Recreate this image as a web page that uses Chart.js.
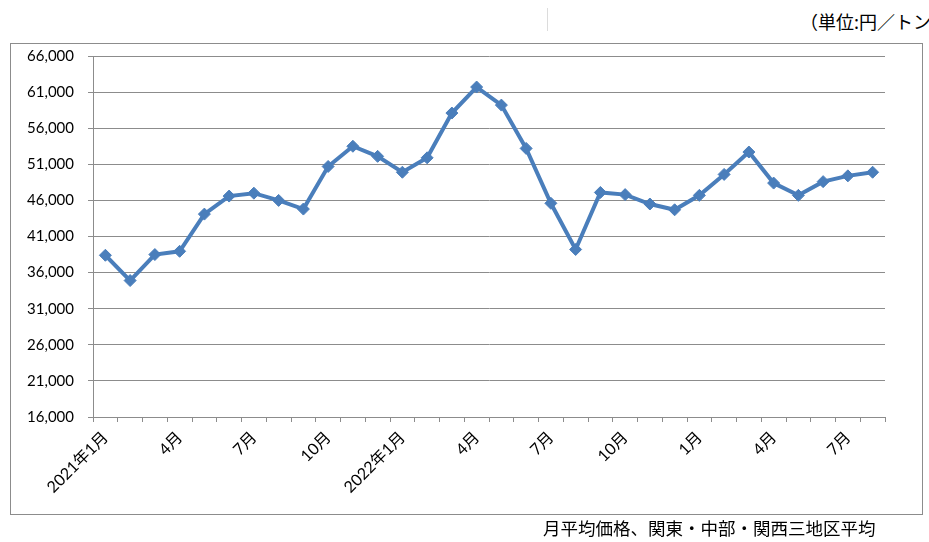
<!DOCTYPE html>
<html>
<head>
<meta charset="utf-8">
<script src="https://cdn.jsdelivr.net/npm/chart.js@4.4.1/dist/chart.umd.min.js"></script>
<style>
  html, body { margin: 0; padding: 0; background: #fff; }
  body { width: 929px; height: 542px; position: relative; overflow: hidden; }
  #chartCanvas { position: absolute; left: 0; top: 0; }
  .frame { position: absolute; left: 10px; top: 43px; width: 911px; height: 470px; border: 1px solid #8c8c8c; pointer-events: none; }
  .sep { position: absolute; left: 547px; top: 8px; width: 1px; height: 23px; background: #dcdcdc; }
  .unit { position: absolute; left: 800px; top: 8px; font: 18px "Noto Sans CJK JP", sans-serif; white-space: nowrap; color: #000; }
  .note { position: absolute; left: 543px; top: 515px; font: 17.5px "Noto Sans CJK JP", sans-serif; white-space: nowrap; color: #000; }
</style>
</head>
<body>
<div class="sep"></div>
<div class="unit">（単位:円／トン）</div>
<canvas id="chartCanvas" width="929" height="542"></canvas>
<div class="frame"></div>
<div class="note">月平均価格、関東・中部・関西三地区平均</div>
<script>
(function () {
    'use strict';

    // 2021年1月 〜 2023年8月
    var months = [
        '2021年1月', '2月', '3月', '4月', '5月', '6月', '7月', '8月', '9月', '10月', '11月', '12月',
        '2022年1月', '2月', '3月', '4月', '5月', '6月', '7月', '8月', '9月', '10月', '11月', '12月',
        '1月', '2月', '3月', '4月', '5月', '6月', '7月', '8月'
    ];
    var prices = [
        38400, 34900, 38500, 38950, 44100, 46600, 47000, 46000, 44800, 50700, 53500, 52100,
        49900, 51900, 58100, 61700, 59200, 53200, 45600, 39200, 47100, 46800, 45500, 44700,
        46700, 49600, 52700, 48400, 46700, 48600, 49400, 49900
    ];
    var yMin = 16000;
    var yMax = 66000;
    var yStep = 5000;

    var yFont = { family: 'Lato, "Noto Sans CJK JP", sans-serif', size: 15 };
    var xFont = { family: 'Lato, "Noto Sans CJK JP", sans-serif', size: 16 };

    new Chart(document.getElementById('chartCanvas'), {
        type: 'line',
        data: {
            labels: months,
            datasets: [{
                data: prices,
                borderColor: '#4a7ebb',
                backgroundColor: '#4a7ebb',
                borderWidth: 4,
                pointStyle: 'rectRot',
                pointRadius: 6,
                pointBorderWidth: 1,
                tension: 0
            }]
        },
        options: {
            responsive: false,
            animation: false,
            layout: { padding: { left: 10, right: 44, top: 56, bottom: 28 } },
            plugins: { legend: { display: false }, tooltip: { enabled: false } },
            scales: {
                x: {
                    offset: true,
                    grid: { offset: true, drawOnChartArea: false, drawTicks: true, tickLength: 5, color: '#8c8c8c' },
                    border: { color: '#8c8c8c' },
                    ticks: {
                        autoSkip: false,
                        maxRotation: 45,
                        minRotation: 45,
                        color: '#000',
                        font: xFont,
                        padding: 6,
                        callback: function (v, i) { return i % 3 === 0 ? months[i] : ''; }
                    },
                    afterFit: function (s) { s.height = 97; }
                },
                y: {
                    min: yMin,
                    max: yMax,
                    grid: { color: '#8c8c8c', tickLength: 5 },
                    border: { color: '#8c8c8c' },
                    ticks: {
                        stepSize: yStep,
                        color: '#000',
                        font: yFont,
                        padding: 14,
                        callback: function (v) { return v.toLocaleString('en-US'); }
                    },
                    afterFit: function (s) { s.width = 83; }
                }
            }
        }
    });
})();
</script>
</body>
</html>
